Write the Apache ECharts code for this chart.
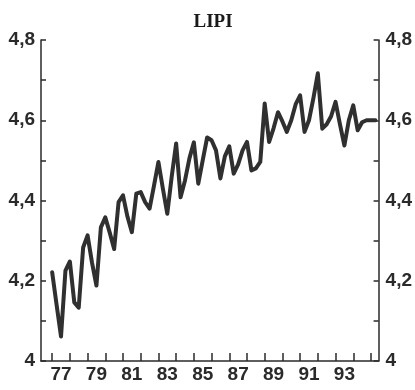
<!DOCTYPE html>
<html>
<head>
<meta charset="utf-8">
<script src="https://cdn.jsdelivr.net/npm/echarts@6/dist/echarts.min.js"></script>
<style>
  html, body { margin: 0; padding: 0; background: #fff; }
  #chart { width: 415px; height: 390px; }
</style>
</head>
<body>
<div id="chart"></div>
<script>
// LIPI, quarterly log index, 1977Q1 onwards
const startYear = 1977;
const lipi = [
  4.221, 4.140, 4.061, 4.225,
  4.248, 4.146, 4.133, 4.283,
  4.313, 4.245, 4.188, 4.333,
  4.358, 4.320, 4.279, 4.396,
  4.413, 4.360, 4.321, 4.417,
  4.421, 4.396, 4.380, 4.437,
  4.496, 4.430, 4.367, 4.460,
  4.542, 4.408, 4.450, 4.505,
  4.545, 4.442, 4.500, 4.557,
  4.550, 4.525, 4.455, 4.510,
  4.535, 4.467, 4.490, 4.525,
  4.546, 4.475, 4.480, 4.496,
  4.642, 4.546, 4.580, 4.620,
  4.597, 4.571, 4.600, 4.640,
  4.662, 4.571, 4.600, 4.655,
  4.717, 4.579, 4.590, 4.610,
  4.646, 4.590, 4.537, 4.600,
  4.637, 4.575, 4.595, 4.600,
  4.600, 4.600
];

// Year boundaries carry ticks; odd years are labelled at mid-year
const yearTicks = [1977, 1978, 1979, 1980, 1981, 1982, 1983, 1984, 1985,
                   1986, 1987, 1988, 1989, 1990, 1991, 1992, 1993, 1994, 1995];
const labelYears = [1977, 1979, 1981, 1983, 1985, 1987, 1989, 1991, 1993];
const yTickLabels = ['4', '4,2', '4,4', '4,6', '4,8'];

const points = lipi.map((v, i) => [startYear + i / 4, v]);

const labelFont = {
  fontFamily: 'Liberation Sans, Arial, sans-serif',
  fontWeight: 'bold',
  fontSize: 19,
  color: '#2a2a2a'
};

function yAxisCfg(pos, margin) {
  return {
    type: 'value',
    position: pos,
    min: 4,
    max: 4.8,
    interval: 0.2,
    axisLine: { show: true, lineStyle: { color: '#2a2a2a', width: 1.5 } },
    axisTick: { show: true, inside: true, length: 5, lineStyle: { color: '#2a2a2a', width: 1.5 } },
    minorTick: { show: true, splitNumber: 2, length: 5, lineStyle: { color: '#2a2a2a', width: 1.5 } },
    splitLine: { show: false },
    axisLabel: Object.assign({
      margin: margin,
      formatter: v => yTickLabels[Math.round((v - 4) / 0.2)]
    }, labelFont)
  };
}

const chart = echarts.init(document.getElementById('chart'), null, { renderer: 'canvas' });
chart.setOption({
  animation: false,
  backgroundColor: '#fff',
  title: {
    text: 'LIPI',
    left: 208,
    top: 8,
    textAlign: 'center',
    textStyle: {
      fontFamily: 'Liberation Serif, Times New Roman, serif',
      fontWeight: 'bold',
      fontSize: 19,
      color: '#1a1a1a'
    }
  },
  grid: { left: 41, right: 32, top: 40, bottom: 29 },
  xAxis: {
    type: 'value',
    min: 1976.37,
    max: 1995.43,
    axisLine: { show: true, onZero: false, lineStyle: { color: '#2a2a2a', width: 1.5 } },
    axisTick: {
      show: true, inside: true, length: 8,
      customValues: yearTicks,
      lineStyle: { color: '#2a2a2a', width: 1.5 }
    },
    splitLine: { show: false },
    axisLabel: Object.assign({
      margin: 4,
      customValues: labelYears.map(y => y + 0.5),
      formatter: v => String(Math.floor(v)).slice(2)
    }, labelFont)
  },
  yAxis: [yAxisCfg('left', 6), yAxisCfg('right', 7)],
  series: [{
    type: 'line',
    data: points,
    showSymbol: false,
    smooth: false,
    lineStyle: { color: '#303030', width: 4, join: 'round', cap: 'round' }
  }]
});
</script>
</body>
</html>
